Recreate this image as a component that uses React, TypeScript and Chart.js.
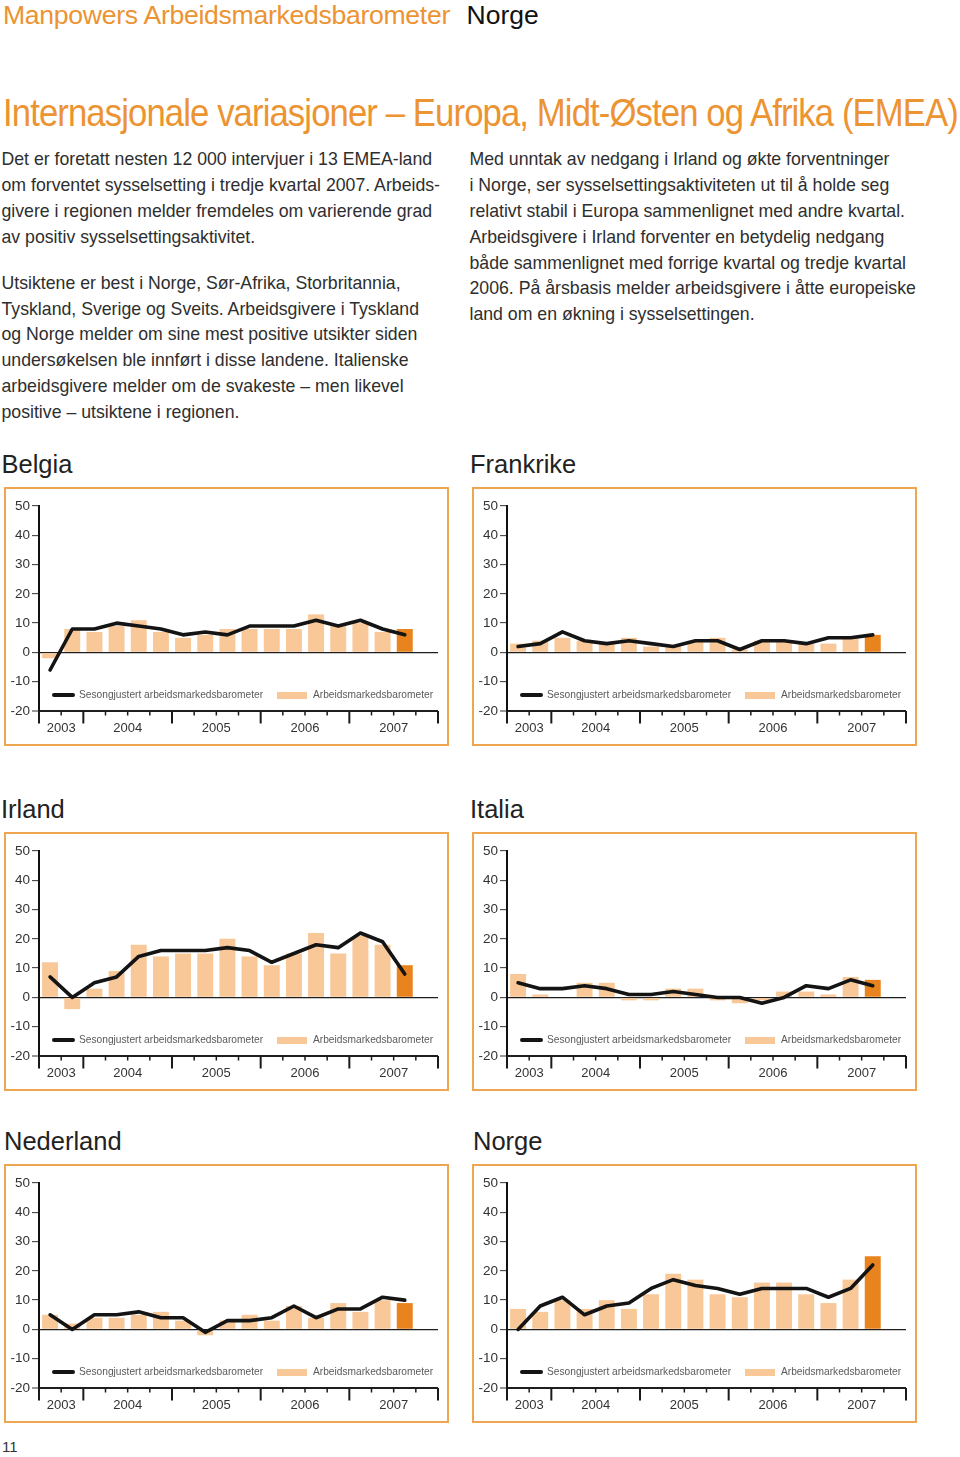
import React, { useEffect, useLayoutEffect, useRef } from 'react';
import { Chart, registerables } from 'chart.js';

Chart.register(...registerables);

const FONT = '"Liberation Sans", Arial, Helvetica, sans-serif';

// ---------- data ----------
const quarterLabels = [
  '2003 K3', '2003 K4',
  '2004 K1', '2004 K2', '2004 K3', '2004 K4',
  '2005 K1', '2005 K2', '2005 K3', '2005 K4',
  '2006 K1', '2006 K2', '2006 K3', '2006 K4',
  '2007 K1', '2007 K2', '2007 K3', '2007 K4',
];
const yTicks = [-20, -10, 0, 10, 20, 30, 40, 50];

const belgiaBars = [-2, 8, 7, 9, 11, 7, 5, 6, 8, 8, 8, 8, 13, 9, 10, 7, 8];
const belgiaLine = [-6, 8, 8, 10, 9, 8, 6, 7, 6, 9, 9, 9, 11, 9, 11, 8, 6];

const frankrikeBars = [3, 4, 5, 4, 3, 5, 2, 2, 4, 5, 1, 4, 4, 3, 3, 5, 6];
const frankrikeLine = [2, 3, 7, 4, 3, 4, 3, 2, 4, 4, 1, 4, 4, 3, 5, 5, 6];

const irlandBars = [12, -4, 3, 9, 18, 14, 15, 15, 20, 14, 11, 15, 22, 15, 21, 18, 11];
const irlandLine = [7, 0, 5, 7, 14, 16, 16, 16, 17, 16, 12, 15, 18, 17, 22, 19, 8];

const italiaBars = [8, 1, 0, 5, 5, -1, -1, 3, 3, -1, -2, -1, 2, 2, 1, 7, 6];
const italiaLine = [5, 3, 3, 4, 3, 1, 1, 2, 1, 0, 0, -2, 0, 4, 3, 6, 4];

const nederlandBars = [5, 2, 4, 4, 5, 6, 3, -2, 3, 5, 3, 8, 4, 9, 6, 10, 9];
const nederlandLine = [5, 0, 5, 5, 6, 4, 4, -1, 3, 3, 4, 8, 4, 7, 7, 11, 10];

const norgeBars = [7, 6, 10, 7, 10, 7, 12, 19, 17, 12, 11, 16, 16, 12, 9, 17, 25];
const norgeLine = [0, 8, 11, 5, 8, 9, 14, 17, 15, 14, 12, 14, 14, 14, 11, 14, 22];

const legendLineLabel = 'Sesongjustert arbeidsmarkedsbarometer';
const legendBarLabel = 'Arbeidsmarkedsbarometer';

const headerLeft = 'Manpowers Arbeidsmarkedsbarometer';
const headerRight = 'Norge';
const pageTitle = 'Internasjonale variasjoner – Europa, Midt-Østen og Afrika (EMEA)';

const leftPara1 = [
  'Det er foretatt nesten 12 000 intervjuer i 13 EMEA-land',
  'om forventet sysselsetting i tredje kvartal 2007. Arbeids-',
  'givere i regionen melder fremdeles om varierende grad',
  'av positiv sysselsettingsaktivitet.',
];
const leftPara2 = [
  'Utsiktene er best i Norge, Sør-Afrika, Storbritannia,',
  'Tyskland, Sverige og Sveits. Arbeidsgivere i Tyskland',
  'og Norge melder om sine mest positive utsikter siden',
  'undersøkelsen ble innført i disse landene. Italienske',
  'arbeidsgivere melder om de svakeste – men likevel',
  'positive – utsiktene i regionen.',
];
const rightPara = [
  'Med unntak av nedgang i Irland og økte forventninger',
  'i Norge, ser sysselsettingsaktiviteten ut til å holde seg',
  'relativt stabil i Europa sammenlignet med andre kvartal.',
  'Arbeidsgivere i Irland forventer en betydelig nedgang',
  'både sammenlignet med forrige kvartal og tredje kvartal',
  '2006. På årsbasis melder arbeidsgivere i åtte europeiske',
  'land om en økning i sysselsettingen.',
];

const COLORS = {
  bar: '#f9c899',
  barLast: '#e9831d',
  line: '#141414',
  frame: '#eea650',
  orange: '#ec9332',
  text: '#2e2e2e',
  title: '#222222',
  legend: '#5a5a5a',
};

// ---------- layout (positions only) ----------
const panels = [
  { title: 'Belgia', bars: belgiaBars, line: belgiaLine, left: 4, top: 487, titleLeft: 1.5 },
  { title: 'Frankrike', bars: frankrikeBars, line: frankrikeLine, left: 472, top: 487, titleLeft: 470 },
  { title: 'Irland', bars: irlandBars, line: irlandLine, left: 4, top: 832, titleLeft: 1 },
  { title: 'Italia', bars: italiaBars, line: italiaLine, left: 472, top: 832, titleLeft: 470 },
  { title: 'Nederland', bars: nederlandBars, line: nederlandLine, left: 4, top: 1164, titleLeft: 4 },
  { title: 'Norge', bars: norgeBars, line: norgeLine, left: 472, top: 1164, titleLeft: 473 },
];

const INNER_W = 441;
const INNER_H = 255;

// ---------- plugin: quarter ticks and year labels on the x axis ----------
const quarterAxisPlugin = {
  id: 'quarterAxis',
  afterDraw(chart: any) {
    const xs = chart.scales.x;
    const ys = chart.scales.y;
    const ctx = chart.ctx;
    const labels = chart.data.labels as string[];
    const n = labels.length;
    const step = xs.getPixelForValue(1) - xs.getPixelForValue(0);
    const edge = (i: number) => xs.getPixelForValue(0) - step / 2 + i * step;
    const base = ys.getPixelForValue(ys.min);
    const groups: { year: string; start: number; end: number }[] = [];
    labels.forEach((l, i) => {
      const yr = l.slice(0, 4);
      const g = groups[groups.length - 1];
      if (g && g.year === yr) g.end = i + 1;
      else groups.push({ year: yr, start: i, end: i + 1 });
    });
    const majors = new Set<number>([0, ...groups.map((g) => g.end)]);
    ctx.save();
    ctx.strokeStyle = '#1a1a1a';
    for (let i = 0; i <= n; i++) {
      const x = edge(i);
      const major = majors.has(i);
      ctx.lineWidth = major ? 2 : 1.5;
      ctx.beginPath();
      ctx.moveTo(x, base);
      ctx.lineTo(x, base + (major ? 12.5 : 4.5));
      ctx.stroke();
    }
    ctx.fillStyle = '#333';
    ctx.font = `13px ${FONT}`;
    ctx.textAlign = 'center';
    ctx.textBaseline = 'middle';
    groups.forEach((g) => {
      ctx.fillText(g.year, (edge(g.start) + edge(g.end)) / 2, base + 17.5);
    });
    ctx.restore();
  },
};

function BarometerChart({ bars, line }: { bars: number[]; line: number[] }) {
  const ref = useRef<HTMLCanvasElement>(null);
  useEffect(() => {
    if (!ref.current) return;
    const chart = new Chart(ref.current, {
      type: 'bar',
      data: {
        labels: quarterLabels,
        datasets: [
          {
            type: 'line',
            label: legendLineLabel,
            data: line,
            borderColor: COLORS.line,
            backgroundColor: COLORS.line,
            borderWidth: 3.6,
            pointRadius: 0,
            tension: 0,
            order: 0,
            borderJoinStyle: 'round',
            borderCapStyle: 'round',
            fill: false,
          } as any,
          {
            type: 'bar',
            label: legendBarLabel,
            data: bars,
            backgroundColor: bars.map((_, i) => (i === bars.length - 1 ? COLORS.barLast : COLORS.bar)),
            borderWidth: 0,
            barPercentage: 0.72,
            categoryPercentage: 1,
            order: 1,
          } as any,
        ],
      },
      options: {
        responsive: false,
        animation: false,
        devicePixelRatio: 1,
        events: [],
        layout: { padding: { top: 17, right: 9, bottom: 33, left: 0 } },
        plugins: { legend: { display: false }, tooltip: { enabled: false } },
        scales: {
          x: { type: 'category', offset: true, display: false, grid: { display: false } },
          y: {
            min: yTicks[0],
            max: yTicks[yTicks.length - 1],
            afterFit: (s: any) => {
              s.width = 33;
            },
            afterBuildTicks: (s: any) => {
              s.ticks = yTicks.map((v) => ({ value: v }));
            },
            ticks: { font: { family: FONT, size: 13.5 }, color: '#333', padding: 2 },
            grid: {
              drawOnChartArea: true,
              color: (c: any) => (c.tick && (c.tick.value === 0 || c.tick.value === yTicks[0]) ? '#1e1e1e' : 'rgba(0,0,0,0)'),
              lineWidth: (c: any) => (c.tick && c.tick.value === yTicks[0] ? 2 : 1.3),
              tickLength: 7,
              tickColor: '#333',
              tickWidth: 1,
            },
            border: { display: true, color: '#111', width: 2 },
          },
        },
      } as any,
      plugins: [quarterAxisPlugin],
    });
    return () => chart.destroy();
  }, [bars, line]);
  return <canvas ref={ref} width={INNER_W} height={INNER_H} style={{ display: 'block' }} />;
}

function FitText({ text, width, style }: { text: string; width: number; style: React.CSSProperties }) {
  const ref = useRef<HTMLSpanElement>(null);
  useLayoutEffect(() => {
    const el = ref.current;
    if (!el) return;
    el.style.transform = 'none';
    const w = el.getBoundingClientRect().width;
    if (w > 0) el.style.transform = `scaleX(${width / w})`;
  }, [text, width]);
  return (
    <span
      ref={ref}
      style={{ position: 'absolute', display: 'inline-block', whiteSpace: 'nowrap', transformOrigin: '0 0', ...style }}
    >
      {text}
    </span>
  );
}

function Lines({ lines, left, top, width }: { lines: string[]; left: number; top: number; width: number }) {
  return (
    <div
      style={{
        position: 'absolute',
        left,
        top,
        width,
        fontSize: 17.7,
        lineHeight: '25.9px',
        color: COLORS.text,
        whiteSpace: 'nowrap',
      }}
    >
      {lines.map((l, i) => (
        <div key={i}>{l}</div>
      ))}
    </div>
  );
}

function Panel({ p }: { p: (typeof panels)[number] }) {
  return (
    <>
      <div
        style={{
          position: 'absolute',
          left: p.titleLeft,
          top: p.top - 35.2,
          fontSize: 25.5,
          lineHeight: '25.5px',
          color: COLORS.title,
          whiteSpace: 'nowrap',
        }}
      >
        {p.title}
      </div>
      <div
        style={{
          position: 'absolute',
          left: p.left,
          top: p.top,
          width: INNER_W,
          height: INNER_H,
          border: `2px solid ${COLORS.frame}`,
        }}
      >
        <BarometerChart bars={p.bars} line={p.line} />
        <div style={{ position: 'absolute', left: 46, top: 204.3, width: 23, height: 3.6, background: COLORS.line, borderRadius: 2 }} />
        <div style={{ position: 'absolute', left: 73, top: 199.5, fontSize: 10.2, lineHeight: '12px', color: COLORS.legend, whiteSpace: 'nowrap' }}>
          {legendLineLabel}
        </div>
        <div style={{ position: 'absolute', left: 271, top: 202.5, width: 30, height: 7, background: COLORS.bar }} />
        <div style={{ position: 'absolute', left: 307, top: 199.5, fontSize: 10.2, lineHeight: '12px', color: COLORS.legend, whiteSpace: 'nowrap' }}>
          {legendBarLabel}
        </div>
      </div>
    </>
  );
}

export default function App() {
  return (
    <div
      style={{
        position: 'relative',
        width: 960,
        height: 1457,
        overflow: 'hidden',
        background: '#fff',
        fontFamily: FONT,
      }}
    >
      <style>{'body{margin:0;}'}</style>
      <FitText
        text={headerLeft}
        width={447}
        style={{ left: 2.5, top: 1.6, fontSize: 26.5, lineHeight: '26.5px', color: COLORS.orange, letterSpacing: -0.3 }}
      />
      <div style={{ position: 'absolute', left: 466.5, top: 1.6, fontSize: 26.5, lineHeight: '26.5px', color: '#111' }}>
        {headerRight}
      </div>
      <FitText
        text={pageTitle}
        width={955}
        style={{ left: 2.5, top: 93, fontSize: 39, lineHeight: '39px', color: COLORS.orange, letterSpacing: -1 }}
      />
      <Lines lines={leftPara1} left={1.5} top={146.9} width={445} />
      <Lines lines={leftPara2} left={1.5} top={270.6} width={445} />
      <Lines lines={rightPara} left={469.5} top={146.9} width={470} />
      {panels.map((p) => (
        <Panel key={p.title} p={p} />
      ))}
      <div style={{ position: 'absolute', left: 2, top: 1439.3, fontSize: 15, lineHeight: '15px', color: '#333' }}>11</div>
    </div>
  );
}
